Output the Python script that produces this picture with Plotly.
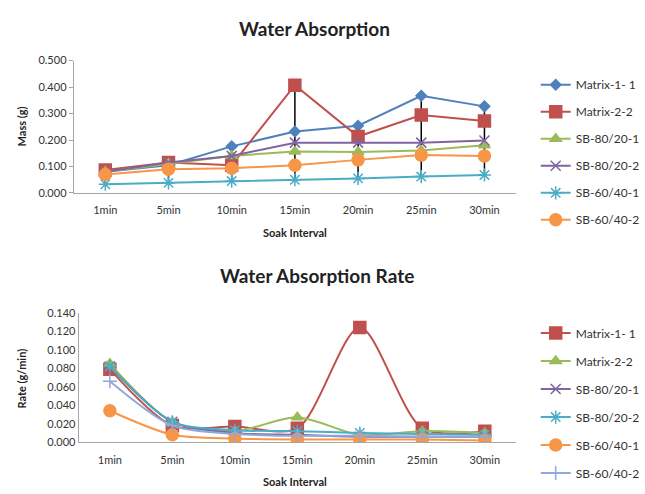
import plotly.graph_objects as go

W, H = 645, 494
intervals = ["1min", "5min", "10min", "15min", "20min", "25min", "30min"]

# Water absorption (mass, g)
mass_names = ["Matrix-1- 1", "Matrix-2-2", "SB-80/20-1", "SB-80/20-2", "SB-60/40-1", "SB-60/40-2"]
mass_m11 = [0.080, 0.105, 0.176, 0.232, 0.254, 0.367, 0.327]
mass_m22 = [0.087, 0.115, 0.105, 0.407, 0.213, 0.294, 0.272]
mass_sb8201 = [0.080, 0.110, 0.140, 0.157, 0.155, 0.160, 0.180]
mass_sb8202 = [0.080, 0.115, 0.140, 0.190, 0.190, 0.190, 0.198]
mass_sb6401 = [0.033, 0.038, 0.045, 0.050, 0.055, 0.062, 0.068]
mass_sb6402 = [0.070, 0.090, 0.093, 0.105, 0.125, 0.143, 0.140]

# Water absorption rate (g/min)
rate_names = ["Matrix-1- 1", "Matrix-2-2", "SB-80/20-1", "SB-80/20-2", "SB-60/40-1", "SB-60/40-2"]
rate_m11 = [0.079, 0.018, 0.017, 0.015, 0.124, 0.015, 0.012]
rate_m22 = [0.085, 0.022, 0.012, 0.027, 0.008, 0.012, 0.010]
rate_sb8201 = [0.082, 0.022, 0.010, 0.008, 0.006, 0.006, 0.006]
rate_sb8202 = [0.082, 0.022, 0.013, 0.012, 0.010, 0.009, 0.008]
rate_sb6401 = [0.034, 0.008, 0.004, 0.003, 0.003, 0.003, 0.002]
rate_sb6402 = [0.066, 0.018, 0.009, 0.007, 0.007, 0.006, 0.006]

FONT = "Lato"
BLUE, RED, GREEN, PURPLE, AQUA, ORANGE, LBLUE = "#4F81BD", "#C0504D", "#9BBB59", "#8064A2", "#4BACC6", "#F79646", "#8EA9DB"

def px_x(p):
    return p / W

def px_y(p):
    return 1 - p / H

fig = go.Figure()

# high-low lines (top chart)
mass_series = [mass_m11, mass_m22, mass_sb8201, mass_sb8202, mass_sb6401, mass_sb6402]
hx, hy = [], []
for i, c in enumerate(intervals):
    vals = [s[i] for s in mass_series]
    hx += [c, c, None]
    hy += [max(vals), min(vals), None]
fig.add_trace(go.Scatter(x=hx, y=hy, mode="lines", line=dict(color="black", width=1.5),
                         showlegend=False, hoverinfo="skip", xaxis="x", yaxis="y"))

top_styles = [
    (BLUE, "diamond", 8),
    (RED, "square", 12),
    (GREEN, "triangle-up", 10),
    (PURPLE, "x-thin-open", 10),
    (AQUA, "asterisk-open", 11),
    (ORANGE, "circle", 12),
]
for name, vals, (col, sym, sz) in zip(mass_names, mass_series, top_styles):
    fig.add_trace(go.Scatter(x=intervals, y=vals, name=name, mode="lines+markers",
                             line=dict(color=col, width=2),
                             marker=dict(symbol=sym, size=sz, color=col, line=dict(color=col, width=1.5)),
                             xaxis="x", yaxis="y", legend="legend", legendgroup="t" + name))

rate_series = [rate_m11, rate_m22, rate_sb8201, rate_sb8202, rate_sb6401, rate_sb6402]
bot_styles = [
    (RED, "square", 12),
    (GREEN, "triangle-up", 10),
    (PURPLE, "x-thin-open", 10),
    (AQUA, "asterisk-open", 11),
    (ORANGE, "circle", 12),
    (LBLUE, "cross-thin-open", 10),
]
for name, vals, (col, sym, sz) in zip(rate_names, rate_series, bot_styles):
    fig.add_trace(go.Scatter(x=intervals, y=vals, name=name, mode="lines+markers",
                             line=dict(color=col, width=2, shape="spline", smoothing=0.8),
                             marker=dict(symbol=sym, size=sz, color=col, line=dict(color=col, width=1.5)),
                             xaxis="x2", yaxis="y2", legend="legend2", legendgroup="b" + name))

axis_common = dict(showgrid=False, zeroline=False, showline=True, linecolor="#A6A6A6", linewidth=1,
                   tickfont=dict(family=FONT, size=11, color="#333"))

def ann(text, x, y, size, angle=0):
    return dict(text=text, x=px_x(x), y=px_y(y), xref="paper", yref="paper", xanchor="center",
                yanchor="middle", textangle=angle, showarrow=False,
                font=dict(family=FONT, size=size, color="#222"))

fig.update_layout(
    width=W, height=H, margin=dict(l=0, r=0, t=0, b=0),
    paper_bgcolor="white", plot_bgcolor="white",
    font=dict(family=FONT, color="#222"),
    xaxis=dict(domain=[px_x(75), px_x(525)], anchor="y", type="category", categoryorder="array",
               categoryarray=intervals, range=[-0.5, 6.5], ticks="", ticklabelstandoff=7, **axis_common),
    yaxis=dict(domain=[px_y(191), px_y(55)], anchor="x", range=[0, 0.5], dtick=0.1, tickformat=".3f",
               ticks="outside", ticklen=4, tickcolor="#A6A6A6", **axis_common),
    xaxis2=dict(domain=[px_x(80), px_x(525)], anchor="y2", type="category", categoryorder="array",
                categoryarray=intervals, range=[-0.5, 6.5], ticks="", ticklabelstandoff=8, **axis_common),
    yaxis2=dict(domain=[px_y(447), px_y(314)], anchor="x2", range=[0, 0.14], dtick=0.02, tickformat=".3f",
                ticks="", **axis_common),
    legend=dict(x=px_x(545), y=px_y(65), xanchor="left", yanchor="top", traceorder="grouped",
                tracegroupgap=8, font=dict(family=FONT, size=12, color="#333"), bgcolor="rgba(0,0,0,0)"),
    legend2=dict(x=px_x(545), y=px_y(320), xanchor="left", yanchor="top", traceorder="grouped",
                 tracegroupgap=9, font=dict(family=FONT, size=12, color="#333"), bgcolor="rgba(0,0,0,0)"),
    annotations=[
        ann("<b>Water Absorption</b>", 320, 22, 19),
        ann("<b>Water Absorption Rate</b>", 322, 276, 19),
        ann("<b>Soak Interval</b>", 300, 232, 11),
        ann("<b>Soak Interval</b>", 300, 487, 11),
        ann("<b>Mass (g)</b>", 22, 123, 11, -90),
        ann("<b>Rate (g/min)</b>", 22, 382, 11, -90),
    ],
)

fig.write_html("out.html")
